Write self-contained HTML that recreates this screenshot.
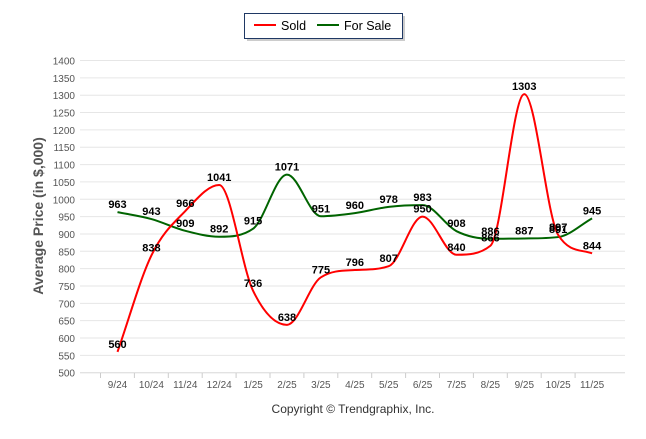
<!DOCTYPE html>
<html><head><meta charset="utf-8"><style>
body{margin:0;background:#fff;font-family:"Liberation Sans",Arial,sans-serif}
svg text{font-family:"Liberation Sans",Arial,sans-serif}
</style></head><body>
<svg id="c" width="646" height="434" xmlns="http://www.w3.org/2000/svg">
<g>
<rect x="247" y="16" width="158" height="25" fill="#999" opacity="0.5"/>
<rect x="244.5" y="13.5" width="158" height="25" fill="#fff" stroke="#1f3864" stroke-width="1"/>
<line x1="254" y1="25" x2="276" y2="25" stroke="#ff0000" stroke-width="2"/>
<text x="281" y="30" font-size="12.5" fill="#000">Sold</text>
<line x1="317" y1="25" x2="339" y2="25" stroke="#006400" stroke-width="2"/>
<text x="344" y="30" font-size="12.5" fill="#000">For Sale</text>
</g>
<text transform="translate(43,216) rotate(-90)" text-anchor="middle" font-size="14" font-weight="bold" fill="#555">Average Price (in $,000)</text>
<text x="353" y="413" text-anchor="middle" font-size="12" fill="#333">Copyright © Trendgraphix, Inc.</text>
<g id="grid"></g><g id="series"></g><g id="labels"></g>
</svg>
<script>
const categories=["9/24","10/24","11/24","12/24","1/25","2/25","3/25","4/25","5/25","6/25","7/25","8/25","9/25","10/25","11/25"];
const soldValues=[560,838,966,1041,736,638,775,796,807,950,840,866,1303,897,844];
const forSaleValues=[963,943,909,892,915,1071,951,960,978,983,908,886,887,891,945];
const yTicks=[500,550,600,650,700,750,800,850,900,950,1000,1050,1100,1150,1200,1250,1300,1350,1400];
const NS="http://www.w3.org/2000/svg";
function y(v){return 372.7-(v-500)*(312.2/900);}
function x(i){return 117.5+i*33.9;}
function mk(t,a,p){const e=document.createElementNS(NS,t);for(const k in a)e.setAttribute(k,a[k]);p.appendChild(e);return e;}
const grid=document.getElementById('grid');
yTicks.forEach(v=>{
 const l=mk('line',{x1:80,x2:625,y1:y(v),y2:y(v),stroke:'#e6e6e6','stroke-width':1},grid);
 
 
 const t=mk('text',{x:75,y:y(v)+4,'text-anchor':'end','font-size':10,fill:'#555'},grid);
 t.textContent=v;
 
 
});
mk('line',{x1:80,x2:625,y1:372.7,y2:372.7,stroke:'#ddd'},grid);
categories.forEach((c,i)=>{
 mk('line',{x1:x(i)-17,x2:x(i)-17,y1:373,y2:378,stroke:'#ccc'},grid);
 const t=mk('text',{x:x(i),y:388,'text-anchor':'middle','font-size':10,fill:'#555'},grid);
 t.textContent=c;
 
 
});
function path(vals){
 const n=vals.length,px=vals.map((v,i)=>x(i)),py=vals.map(y);
 const d=[],m=[];
 for(let i=0;i<n-1;i++)d.push((py[i+1]-py[i])/(px[i+1]-px[i]));
 for(let i=0;i<n;i++){
  if(i==0)m.push(d[0]);else if(i==n-1)m.push(d[n-2]);
  else m.push(d[i-1]*d[i]<=0?0:(d[i-1]+d[i])/2);
 }
 for(let i=0;i<n-1;i++){if(d[i]===0){m[i]=m[i+1]=0;continue;}
  const a=m[i]/d[i],b=m[i+1]/d[i],s=a*a+b*b;if(s>9){const t=3/Math.sqrt(s);m[i]=t*a*d[i];m[i+1]=t*b*d[i];}}
 let s='M'+px[0]+','+py[0];
 for(let i=0;i<n-1;i++){const h=(px[i+1]-px[i])/3;
  s+=' C'+(px[i]+h)+','+(py[i]+m[i]*h)+' '+(px[i+1]-h)+','+(py[i+1]-m[i+1]*h)+' '+px[i+1]+','+py[i+1];}
 return s;
}
const ser=document.getElementById('series'),lab=document.getElementById('labels');
const fs=mk('path',{d:path(forSaleValues),fill:'none',stroke:'#006400','stroke-width':2},ser);


const sd=mk('path',{d:path(soldValues),fill:'none',stroke:'#ff0000','stroke-width':2},ser);


[[forSaleValues,'for-sale-value-label'],[soldValues,'sold-value-label']].forEach(([vals,nm])=>{
 vals.forEach((v,i)=>{
  const t=mk('text',{x:x(i),y:y(v)-4,'text-anchor':'middle','font-size':11,'font-weight':'bold',fill:'#000'},lab);
  t.textContent=v;
  
  
 });
});
</script>
</body></html>
